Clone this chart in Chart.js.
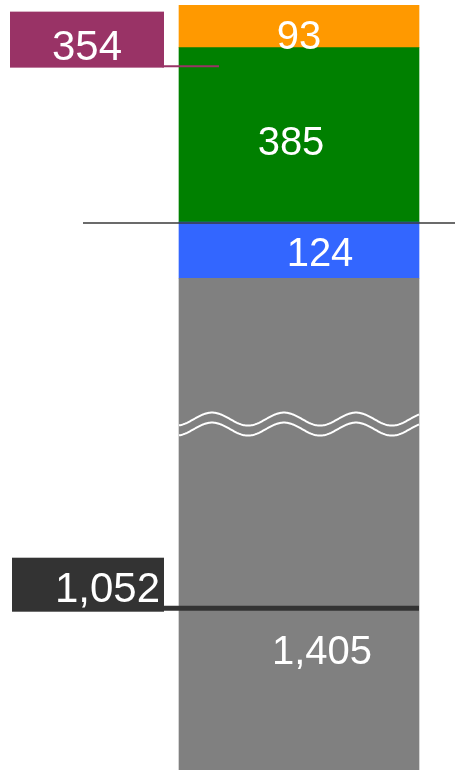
<!DOCTYPE html>
<html>
<head>
<meta charset="utf-8">
<script src="https://cdn.jsdelivr.net/npm/chart.js@4.4.0/dist/chart.umd.min.js"></script>
<style>
  html, body { margin: 0; padding: 0; background: #fff; }
  #wrap { width: 455px; height: 770px; }
</style>
</head>
<body>
<div id="wrap"><canvas id="stack"></canvas></div>
<script>
"use strict";

// one stacked column, bottom segment first
const categories = [''];
const segmentNames = ['Base', 'Blue', 'Green', 'Orange'];
const segmentValues = [1405, 124, 385, 93];
const segmentColors = ['#808080', '#3366ff', '#008000', '#ff9900'];

const markerValues = [354, -1052];
const markerColors = ['#993366', '#333333'];

const refValue = segmentValues[0] + segmentValues[1];
const fmt = v => Math.abs(v).toLocaleString('en-US');

///////////////// broken y axis: the values between breakFrom and breakTo are cut out
class BrokenScale extends Chart.LinearScale {
    squash(v) {
        const { breakFrom, breakTo } = this.options;
        if (v >= breakTo) return v - (breakTo - breakFrom);
        if (v > breakFrom) return breakFrom;
        return v;
    }
    getPixelForValue(value) {
        if (value === null || isNaN(value)) return NaN;
        const lo = this.squash(this.min), hi = this.squash(this.max);
        return this.getPixelForDecimal((this.squash(value) - lo) / (hi - lo));
    }
    getValueForPixel(pixel) {
        const lo = this.squash(this.min), hi = this.squash(this.max);
        const c = lo + this.getDecimalForPixel(pixel) * (hi - lo);
        const { breakFrom, breakTo } = this.options;
        return c > breakFrom ? c + (breakTo - breakFrom) : c;
    }
}
BrokenScale.id = 'broken';
BrokenScale.defaults = Chart.LinearScale.defaults;
Chart.register(BrokenScale);

///////////////// labels, break marks, reference line and markers
const annotate = {
    id: 'annotate',
    afterDatasetsDraw(chart) {
        const { ctx, chartArea } = chart;
        const y = chart.scales.y;
        const first = chart.getDatasetMeta(0).data[0];
        const left = first.x - first.width / 2;
        const right = first.x + first.width / 2;

        ctx.save();

        // wavy break lines
        const by = y.getPixelForValue(y.options.breakFrom);
        ctx.strokeStyle = '#ffffff';
        ctx.lineWidth = 2;
        [by - 6.5, by + 3.5].forEach(mid => {
            ctx.beginPath();
            for (let x = left; x <= right; x += 1) {
                const yy = mid - 6.5 * Math.cos(2 * Math.PI * (x - left - 33) / 72);
                if (x === left) ctx.moveTo(x, yy); else ctx.lineTo(x, yy);
            }
            ctx.stroke();
        });

        // segment value labels
        const shift = [[23, 126], [21, 2], [-8, 6], [0, 8]];
        ctx.font = '40px "Liberation Sans", Arial, sans-serif';
        ctx.fillStyle = '#ffffff';
        ctx.textAlign = 'center';
        ctx.textBaseline = 'alphabetic';
        segmentValues.forEach((v, i) => {
            const bar = chart.getDatasetMeta(i).data[0];
            const top = Math.max(bar.y, chartArea.top);
            const bottom = Math.min(bar.base, chartArea.bottom);
            const cy = (top + bottom) / 2 + shift[i][1];
            ctx.fillText(fmt(v), bar.x + shift[i][0], cy + 14);
        });

        // reference line
        const ry = Math.round(y.getPixelForValue(refValue)) + 1;
        ctx.strokeStyle = '#3a3a3a';
        ctx.lineWidth = 1.5;
        ctx.beginPath();
        ctx.moveTo(83, ry);
        ctx.lineTo(chartArea.right, ry);
        ctx.stroke();

        // markers with boxed labels
        const look = [
            { boxLeft: 10, boxTop: 54.5, boxH: 56, line: 2, end: first.x - 80, dy: 4.5, align: 'center' },
            { boxLeft: 12, boxTop: 50.5, boxH: 54, line: 5, end: right, dy: 0, align: 'right' }
        ];
        const boxRight = 164;
        ctx.font = '42px "Liberation Sans", Arial, sans-serif';
        markerValues.forEach((v, i) => {
            const m = look[i];
            const ly = y.getPixelForValue(refValue + v) + m.dy;
            ctx.strokeStyle = markerColors[i];
            ctx.lineWidth = m.line;
            ctx.beginPath();
            ctx.moveTo(boxRight - 2, ly);
            ctx.lineTo(m.end, ly);
            ctx.stroke();

            ctx.fillStyle = markerColors[i];
            ctx.fillRect(m.boxLeft, ly - m.boxTop, boxRight - m.boxLeft, m.boxH);

            ctx.fillStyle = '#ffffff';
            ctx.textAlign = m.align;
            const tx = m.align === 'center' ? (m.boxLeft + boxRight) / 2 : boxRight - 4;
            ctx.fillText(fmt(v), tx, ly - 6.5);
        });

        ctx.restore();
    }
};

new Chart(document.querySelector('#stack'), {
    type: 'bar',
    data: {
        labels: categories,
        datasets: segmentValues.map((v, i) => ({
            label: segmentNames[i],
            data: [v],
            backgroundColor: segmentColors[i],
            borderWidth: 0,
            barThickness: 240
        }))
    },
    options: {
        responsive: true,
        maintainAspectRatio: false,
        animation: false,
        layout: { padding: { left: 143, right: 0, top: 0, bottom: 0 } },
        scales: {
            x: { stacked: true, display: false },
            y: {
                type: 'broken',
                stacked: true,
                display: false,
                min: 120,
                max: 2019,
                breakFrom: 880,
                breakTo: 1080
            }
        },
        plugins: {
            legend: { display: false },
            tooltip: { enabled: false }
        }
    },
    plugins: [annotate]
});
</script>
</body>
</html>
